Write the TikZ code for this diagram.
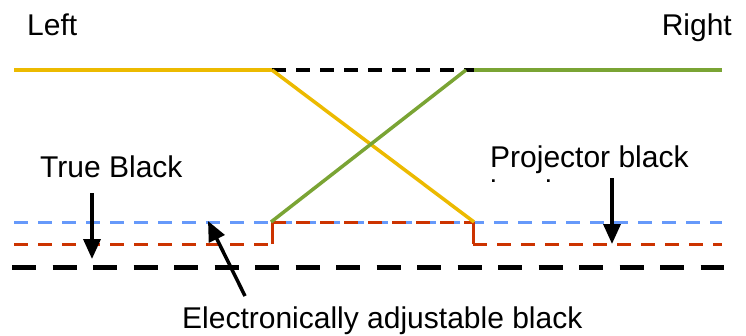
\documentclass[tikz,border=0pt]{standalone}
\usepackage{fontspec}
\setmainfont{Liberation Sans}
\usetikzlibrary{arrows.meta}
\definecolor{lvlgold}{RGB}{236,186,0}
\definecolor{lvlgreen}{RGB}{122,164,52}
\definecolor{lvlblue}{RGB}{102,153,250}
\definecolor{lvlred}{RGB}{204,51,0}
\begin{document}
\begin{tikzpicture}[x=1pt,y=-1pt,
  lbl/.style={inner sep=0pt, anchor=base west, font=\fontsize{30}{34}\selectfont},
  leftlevel/.style={lvlgold, line width=3.5pt},
  rightlevel/.style={lvlgreen, line width=3.5pt},
  gaplevel/.style={black, line width=3.5pt, dash pattern=on 14pt off 10pt},
  bluelevel/.style={lvlblue, line width=3pt, dash pattern=on 14pt off 10pt},
  redlevel/.style={lvlred, line width=3pt, dash pattern=on 14pt off 10pt},
  redstep/.style={lvlred, line width=3pt},
  truelevel/.style={black, line width=5pt, dash pattern=on 24pt off 16.5pt},
  pointer/.style={black, line width=3.5pt, -{Triangle[width=17pt,length=20pt]}}]
\useasboundingbox (0,0) rectangle (746,335);

% corner points of the level curves
\coordinate (yl) at (14,70);
\coordinate (ya) at (272,70);
\coordinate (ga) at (466,70);
\coordinate (gb) at (474,70);
\coordinate (gr) at (722,70);
\coordinate (gl) at (271,222);
\coordinate (yr) at (474,222);
\coordinate (bl) at (14,222);
\coordinate (br) at (722,222);
\coordinate (rl) at (14,244);
\coordinate (rs) at (272,244);
\coordinate (rt) at (272,222);
\coordinate (ru) at (473,222);
\coordinate (rd) at (473,244);
\coordinate (rr) at (722,244);
\coordinate (kl) at (12,267);
\coordinate (kr) at (724,267);

% projector black (blue) and adjustable black (red)
\draw[bluelevel] (bl) -- (br);
\draw[redlevel] (rl) -- (rs);
\draw[redstep] (rs) -- (rt);
\draw[redlevel] (rt) -- (ru);
\draw[redstep] (ru) -- (rd);
\draw[redlevel] (rd) -- (rr);

% true black
\draw[truelevel] (kl) -- (kr);

% top level and the crossing fades
\draw[leftlevel] (yl) -- (ya);
\draw[gaplevel] (ya) -- (gb);
\draw[rightlevel] (gb) -- (gr);
\draw[leftlevel] (ya) -- (yr);
\draw[rightlevel] (gl) -- (ga);

% labels
\node[lbl] (left) at (27,35) {Left};
\node[lbl, anchor=base east] (right) at (732,35) {Right};
\node[lbl] (trueblk) at (40,177) {True Black};
\node[lbl] (projblk) at (490,167) {Projector black};
\begin{scope}
  \clip (480,170) rectangle (720,181);
  \node[lbl] (projlvl) at (490,201) {level};
\end{scope}
\node[lbl] (elecblk) at (182,328) {Electronically adjustable black};

% pointers
\coordinate (ta) at (92,193);
\coordinate (tb) at (92,259);
\coordinate (pa) at (612,178);
\coordinate (pb) at (612,244);
\coordinate (ea) at (245,296);
\coordinate (eb) at (208,221);
\draw[pointer] (ta) -- (tb);
\draw[pointer] (pa) -- (pb);
\draw[pointer] (ea) -- (eb);
\end{tikzpicture}
\end{document}
